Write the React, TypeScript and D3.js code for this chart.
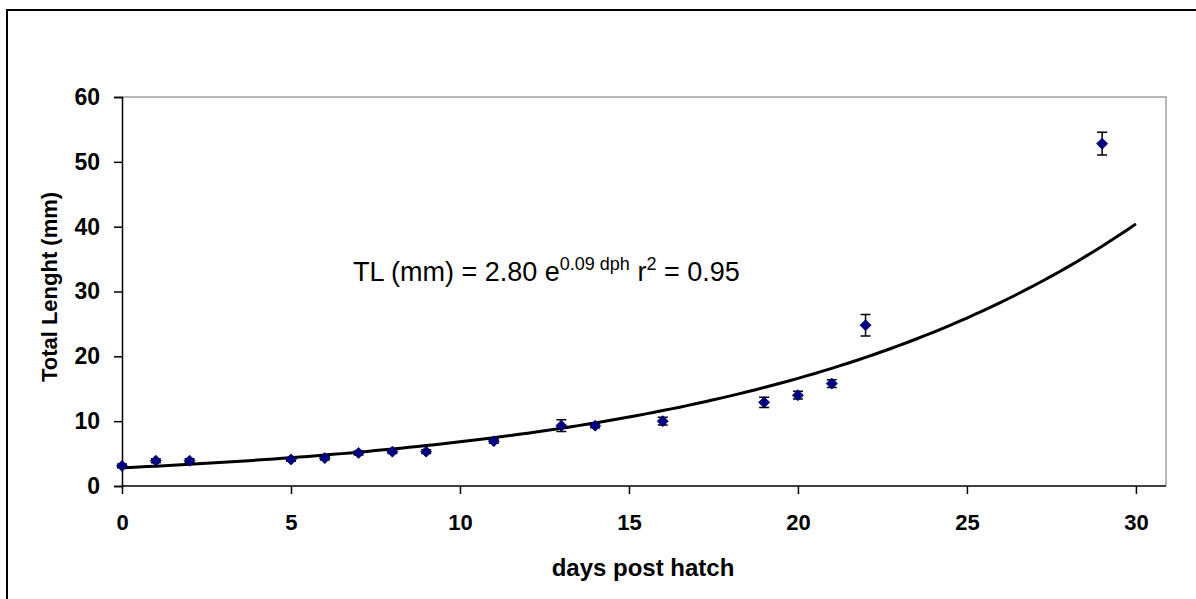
import React, { useEffect, useRef } from "react";
import * as d3 from "d3";

// measured values (days post hatch vs total length, mm)
const days = [0, 1, 2, 5, 6, 7, 8, 9, 11, 13, 14, 16, 19, 20, 21, 22, 29];
const lengths = [3.1, 3.9, 3.9, 4.1, 4.3, 5.1, 5.3, 5.3, 6.9, 9.3, 9.3, 10.0, 12.9, 14.0, 15.8, 24.8, 52.8];
const errors = [0.3, 0.3, 0.3, 0.3, 0.3, 0.3, 0.3, 0.3, 0.3, 0.9, 0.3, 0.6, 0.8, 0.6, 0.6, 1.65, 1.75];

const xTicks = [0, 5, 10, 15, 20, 25, 30];
const yTicks = [0, 10, 20, 30, 40, 50, 60];

// exponential trendline TL = a * e^(b * dph)
const fitA = 2.8;
const fitB = 0.089;
const fitStart = 0;
const fitEnd = 30;

const FONT = "Arial, 'Liberation Sans', Helvetica, sans-serif";

export default function App() {
  const ref = useRef<SVGSVGElement | null>(null);

  useEffect(() => {
    const width = 1196;
    const height = 599;
    const plot = { left: 122, right: 1166, top: 97, bottom: 486 };

    const svg = d3.select(ref.current).attr("width", width).attr("height", height);
    svg.selectAll("*").remove();

    svg.append("rect").attr("width", width).attr("height", height).attr("fill", "#fff");

    // outer chart border (cut off at right and bottom)
    svg
      .append("rect")
      .attr("x", 7)
      .attr("y", 10)
      .attr("width", 1300)
      .attr("height", 700)
      .attr("fill", "none")
      .attr("stroke", "#000")
      .attr("stroke-width", 2);

    const x = d3.scaleLinear().domain([0, 30.89]).range([plot.left, plot.right]);
    const y = d3.scaleLinear().domain([0, 60]).range([plot.bottom, plot.top]);

    // plot area border (grey top & right)
    svg
      .append("path")
      .attr("d", `M${plot.left},${plot.top}H${plot.right}V${plot.bottom}`)
      .attr("fill", "none")
      .attr("stroke", "#a0a0a0")
      .attr("stroke-width", 1.5);

    // y axis
    const yAxis = svg
      .append("g")
      .attr("transform", `translate(${plot.left},0)`)
      .call(d3.axisLeft(y).tickValues(yTicks).tickSize(8).tickPadding(14).tickFormat(d3.format("d")));
    yAxis.select(".domain").attr("stroke", "#000").attr("stroke-width", 1.5);
    yAxis.selectAll(".tick line").attr("stroke", "#000").attr("stroke-width", 1.5);
    yAxis
      .selectAll(".tick text")
      .attr("fill", "#000")
      .style("font-family", FONT)
      .style("font-weight", "bold")
      .style("font-size", "23px");

    // x axis
    const xAxis = svg
      .append("g")
      .attr("transform", `translate(0,${plot.bottom})`)
      .call(d3.axisBottom(x).tickValues(xTicks).tickSize(8).tickPadding(20).tickFormat(d3.format("d")));
    xAxis.select(".domain").attr("d", `M${plot.left},0H${plot.right}`).attr("stroke", "#000").attr("stroke-width", 1.5);
    xAxis.selectAll(".tick line").attr("stroke", "#000").attr("stroke-width", 1.5);
    xAxis
      .selectAll(".tick text")
      .attr("fill", "#000")
      .style("font-family", FONT)
      .style("font-weight", "bold")
      .style("font-size", "22px");

    // axis titles
    svg
      .append("text")
      .attr("x", 643)
      .attr("y", 576)
      .attr("text-anchor", "middle")
      .style("font-family", FONT)
      .style("font-weight", "bold")
      .style("font-size", "24px")
      .text("days post hatch");

    svg
      .append("text")
      .attr("transform", "translate(57,287) rotate(-90)")
      .attr("text-anchor", "middle")
      .style("font-family", FONT)
      .style("font-weight", "bold")
      .style("font-size", "22px")
      .text("Total Lenght (mm)");

    // trendline
    const fitX = d3.range(fitStart, fitEnd + 0.001, 0.25);
    const line = d3
      .line<number>()
      .x((d) => x(d))
      .y((d) => y(fitA * Math.exp(fitB * d)));
    svg
      .append("path")
      .datum(fitX)
      .attr("d", line)
      .attr("fill", "none")
      .attr("stroke", "#000")
      .attr("stroke-width", 3);

    const pts = days.map((d, i) => ({ d, v: lengths[i], e: errors[i] }));

    // error bars
    const eb = svg.append("g").attr("stroke", "#000").attr("stroke-width", 1.5);
    eb.selectAll("path")
      .data(pts)
      .join("path")
      .attr("fill", "none")
      .attr("d", (p) => {
        const cx = x(p.d);
        const y1 = y(p.v + p.e);
        const y2 = y(p.v - p.e);
        return `M${cx - 5},${y1}H${cx + 5}M${cx},${y1}V${y2}M${cx - 5},${y2}H${cx + 5}`;
      });

    // diamond markers
    svg
      .append("g")
      .selectAll("path")
      .data(pts)
      .join("path")
      .attr("d", (p) => {
        const cx = x(p.d);
        const cy = y(p.v);
        return `M${cx},${cy - 5.5}L${cx + 5.5},${cy}L${cx},${cy + 5.5}L${cx - 5.5},${cy}Z`;
      })
      .attr("fill", "#000080")
      .attr("stroke", "#000066")
      .attr("stroke-width", 0.8);

    // equation label
    const eq = svg
      .append("text")
      .attr("x", 353)
      .attr("y", 281)
      .style("font-family", FONT)
      .style("font-size", "27px")
      .attr("fill", "#000");
    eq.append("tspan").text("TL (mm) = 2.80 e");
    eq.append("tspan").attr("dy", -11).style("font-size", "18px").text("0.09 dph");
    eq.append("tspan").attr("dy", 11).text(" r");
    eq.append("tspan").attr("dy", -11).style("font-size", "18px").text("2");
    eq.append("tspan").attr("dy", 11).text(" = 0.95");
  }, []);

  return (
    <svg ref={ref} style={{ position: "absolute", left: 0, top: 0, display: "block" }}></svg>
  );
}
